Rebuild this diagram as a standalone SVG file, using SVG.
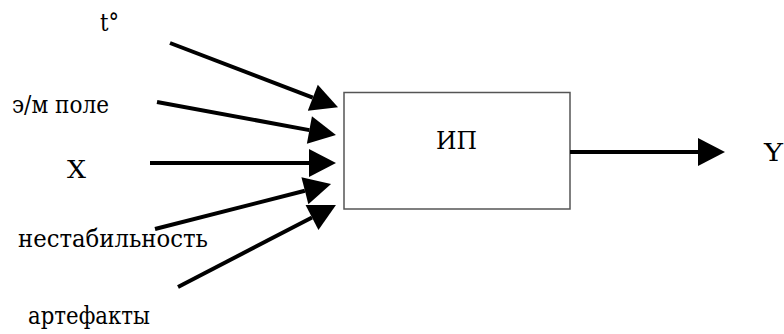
<svg xmlns="http://www.w3.org/2000/svg" width="784" height="334" viewBox="0 0 784 334">
  <style>
    .lbl { font-family: 'DejaVu Serif', serif; font-size: 25px; fill: #000; }
    .wire { stroke: #000; stroke-width: 4; fill: none; marker-end: url(#head); }
    .box { fill: #fff; stroke: #555; stroke-width: 1.5; }
  </style>
  <defs>
    <marker id="head" markerUnits="userSpaceOnUse" markerWidth="27" markerHeight="28" refX="0" refY="14" orient="auto" overflow="visible">
      <path d="M0,0 L27,14 L0,28 Z" fill="#000"/>
    </marker>
  </defs>
  <rect width="784" height="334" fill="#fff"/>

  <!-- input labels -->
  <g id="in-temp"><text class="lbl" x="100" y="31" textLength="19" lengthAdjust="spacingAndGlyphs">t°</text></g>
  <g id="in-field"><text class="lbl" x="12" y="113" textLength="97" lengthAdjust="spacingAndGlyphs">э/м поле</text></g>
  <g id="in-x"><text class="lbl" x="67" y="178" textLength="19" lengthAdjust="spacingAndGlyphs">X</text></g>
  <g id="in-instab"><text class="lbl" x="18" y="247" textLength="190" lengthAdjust="spacingAndGlyphs">нестабильность</text></g>
  <g id="in-artef"><text class="lbl" x="28" y="324" textLength="122" lengthAdjust="spacingAndGlyphs">артефакты</text></g>

  <!-- converter block -->
  <g id="ip">
    <rect class="box" x="344" y="92.5" width="226" height="116.5"/>
    <text class="lbl" x="436" y="149" textLength="41" lengthAdjust="spacingAndGlyphs">ИП</text>
  </g>

  <!-- output label -->
  <g id="out-y"><text class="lbl" x="764" y="161" textLength="19" lengthAdjust="spacingAndGlyphs">Y</text></g>

  <!-- connectors -->
  <g id="connectors">
    <line class="wire" x1="170" y1="43" x2="312.8" y2="97.7"/>
    <line class="wire" x1="157" y1="102" x2="309.4" y2="130.1"/>
    <line class="wire" x1="150" y1="163" x2="309" y2="163"/>
    <line class="wire" x1="155" y1="229" x2="304.9" y2="190.7"/>
    <line class="wire" x1="178" y1="287" x2="312" y2="217.5"/>
    <line class="wire" x1="570" y1="152" x2="698" y2="152"/>
  </g>
</svg>
